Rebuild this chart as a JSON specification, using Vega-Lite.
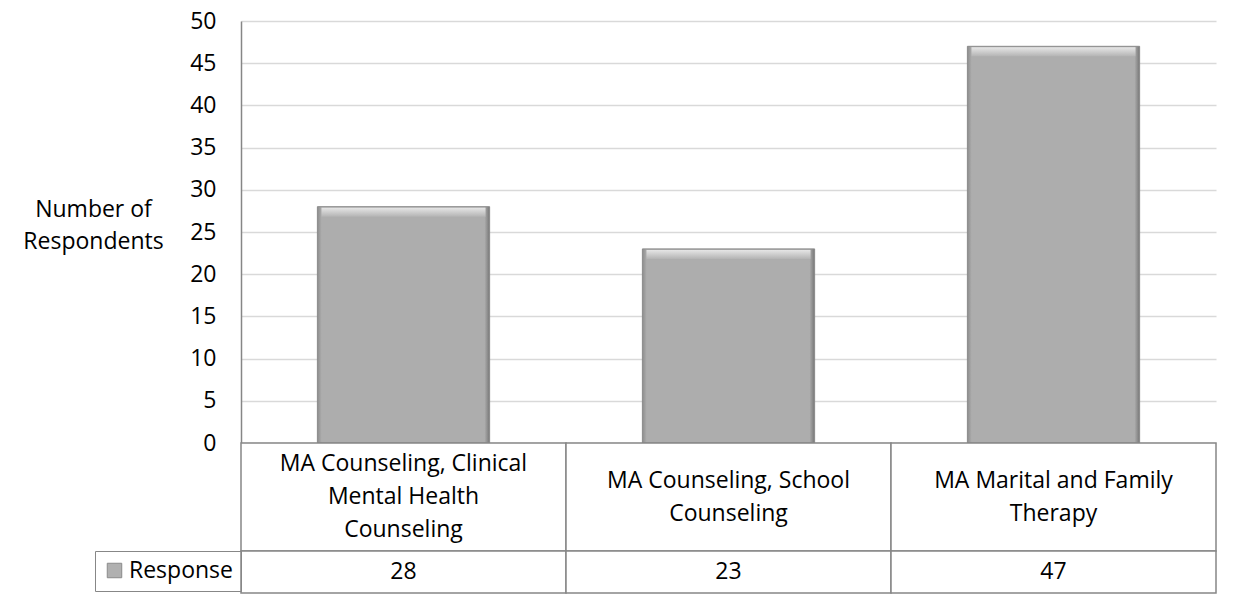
{
  "$schema": "https://vega.github.io/schema/vega-lite/v6.json",
  "background": "white",
  "padding": {"left": 22, "top": 10, "right": 30, "bottom": 9},
  "config": {
    "font": "Open Sans",
    "view": {"stroke": null},
    "concat": {"spacing": 0}
  },
  "bounds": "flush",
  "spacing": 0,
  "resolve": {
    "scale": {"x": "independent", "y": "independent", "color": "independent"},
    "legend": {"color": "independent"}
  },
  "data": {
    "values": [
      {"program": "MA Counseling, Clinical\nMental Health\nCounseling", "series": "Response", "respondents": 28},
      {"program": "MA Counseling, School\nCounseling", "series": "Response", "respondents": 23},
      {"program": "MA Marital and Family\nTherapy", "series": "Response", "respondents": 47}
    ]
  },
  "vconcat": [
    {
      "width": 975,
      "height": 422,
      "encoding": {
        "x": {
          "field": "program",
          "type": "nominal",
          "sort": null,
          "axis": null,
          "scale": {"paddingInner": 0.47, "paddingOuter": 0.235}
        },
        "y": {
          "field": "respondents",
          "type": "quantitative",
          "scale": {"domain": [0, 50], "nice": false},
          "axis": {
            "values": [0, 5, 10, 15, 20, 25, 30, 35, 40, 45, 50],
            "grid": true,
            "gridColor": "#d9d9d9",
            "gridWidth": 1.5,
            "domainColor": "#868686",
            "domainWidth": 1.5,
            "ticks": false,
            "labelPadding": 25,
            "labelFontSize": 23,
            "labelColor": "#000000",
            "title": ["Number of", "Respondents"],
            "titleAngle": 0,
            "titleAlign": "center",
            "titleBaseline": "middle",
            "titleX": -148,
            "titleY": 188,
            "titleLineHeight": 32,
            "titleFontSize": 23,
            "titleFontWeight": "normal",
            "titleColor": "#000000"
          }
        }
      },
      "layer": [
        {
          "mark": {
            "type": "bar",
            "stroke": "#8a8a8a",
            "strokeWidth": 1,
            "fill": {
              "gradient": "linear",
              "x1": 0, "y1": 0, "x2": 1, "y2": 0,
              "stops": [
                {"offset": 0, "color": "#8c8c8c"},
                {"offset": 0.025, "color": "#adadad"},
                {"offset": 0.97, "color": "#adadad"},
                {"offset": 1, "color": "#777777"}
              ]
            }
          }
        },
        {
          "mark": {
            "type": "tick",
            "orient": "horizontal",
            "size": 164,
            "thickness": 9,
            "yOffset": 5.5,
            "opacity": 1,
            "color": {
              "gradient": "linear",
              "x1": 0, "y1": 0, "x2": 0, "y2": 1,
              "stops": [
                {"offset": 0, "color": "#e6e6e6"},
                {"offset": 1, "color": "#b4b4b4"}
              ]
            }
          }
        }
      ]
    },
    {
      "width": 975,
      "height": 108,
      "encoding": {
        "x": {
          "field": "program",
          "type": "nominal",
          "sort": null,
          "axis": null,
          "scale": {"paddingInner": 0, "paddingOuter": 0}
        }
      },
      "layer": [
        {"mark": {"type": "rect", "fill": "white", "stroke": "#878787", "strokeWidth": 1.5}},
        {
          "mark": {
            "type": "text",
            "lineBreak": "\n",
            "fontSize": 23,
            "lineHeight": 33,
            "color": "#000000",
            "baseline": "middle",
            "dy": {"expr": "-(length(split(datum.program, '\\n')) - 1) * 16.5"}
          },
          "encoding": {"text": {"field": "program", "type": "nominal"}}
        }
      ]
    },
    {
      "width": 975,
      "height": 42,
      "encoding": {
        "x": {
          "field": "program",
          "type": "nominal",
          "sort": null,
          "axis": null,
          "scale": {"paddingInner": 0, "paddingOuter": 0}
        }
      },
      "layer": [
        {"mark": {"type": "rect", "fill": "white", "stroke": "#878787", "strokeWidth": 1.5}},
        {
          "mark": {"type": "text", "fontSize": 23, "color": "#000000", "baseline": "middle"},
          "encoding": {"text": {"field": "respondents", "type": "quantitative"}}
        },
        {
          "mark": {"type": "square", "size": 0, "opacity": 1},
          "encoding": {
            "color": {
              "field": "series",
              "type": "nominal",
              "scale": {"range": ["#b0b0b0"]},
              "legend": {
                "orient": "left",
                "offset": 0,
                "title": null,
                "padding": 8,
                "strokeColor": "#878787",
                "symbolType": "square",
                "symbolSize": 210,
                "symbolStrokeColor": "#8a8a8a",
                "symbolStrokeWidth": 1,
                "labelFontSize": 23,
                "labelColor": "#000000",
                "labelOffset": 3
              }
            }
          }
        }
      ]
    }
  ]
}
